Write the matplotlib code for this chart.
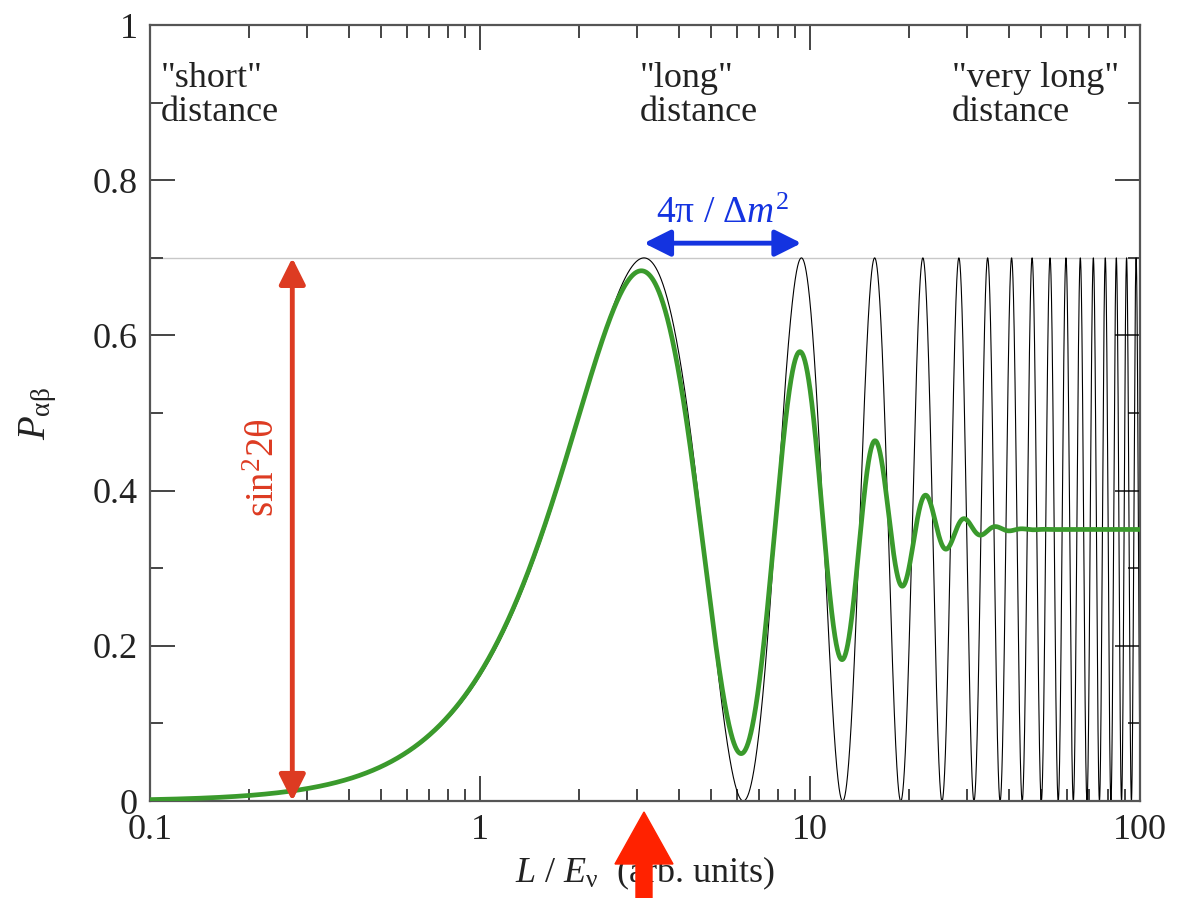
import numpy as np
import matplotlib
matplotlib.use('Agg')
import matplotlib.pyplot as plt
from matplotlib.patches import FancyArrow

plt.rcParams['font.family'] = ['Liberation Serif', 'DejaVu Serif']
plt.rcParams['mathtext.fontset'] = 'custom'
plt.rcParams['mathtext.rm'] = 'Liberation Serif'
plt.rcParams['mathtext.it'] = 'Liberation Serif:italic'
plt.rcParams['mathtext.bf'] = 'Liberation Serif:bold'

# parameters
sin2_2theta = 0.7          # amplitude of the oscillation
dm2 = 2.0                  # period in L/E is 4*pi/dm2 (peaks at pi, 3pi, ...)
e_spread = 0.097           # relative energy spread for the averaged curve
x_min, x_max = 0.1, 100.0

x_ticks = [0.1, 1, 10, 100]
x_tick_labels = ['0.1', '1', '10', '100']
y_ticks = [0, 0.2, 0.4, 0.6, 0.8, 1.0]
y_tick_labels = ['0', '0.2', '0.4', '0.6', '0.8', '1']

region_labels = ['"short"\ndistance', '"long"\ndistance', '"very long"\ndistance']
region_x = [0.108, 3.05, 26.9]

sin2_arrow_x = 0.27


def prob(le):
    return sin2_2theta * np.sin(dm2 * le / 4.0) ** 2


le = np.logspace(np.log10(x_min), np.log10(x_max), 30000)
p_exact = prob(le)

# average over a gaussian energy spread
e = np.linspace(1 - 5 * e_spread, 1 + 5 * e_spread, 601)
w = np.exp(-0.5 * ((e - 1) / e_spread) ** 2)
w = w / w.sum()
p_avg = np.zeros_like(le)
for ei, wi in zip(e, w):
    p_avg += wi * prob(le / ei)

fig = plt.figure(figsize=(11.92, 8.98), dpi=100)
ax = fig.add_axes([0.1258, 0.108, 0.8305, 0.864])

ax.axhline(sin2_2theta, color='#c8c8c8', lw=1.0, zorder=1)
ax.plot(le, p_exact, color='black', lw=0.8, zorder=2)
ax.plot(le, p_avg, color='#3a9a2c', lw=3.4, zorder=3)

ax.set_xscale('log')
ax.set_xlim(x_min, x_max)
ax.set_ylim(0, 1)
ax.set_xticks(x_ticks, labels=x_tick_labels)
ax.set_yticks(y_ticks, labels=y_tick_labels)
ax.set_yticks(np.arange(0.1, 1.0, 0.2), minor=True)

for s in ax.spines.values():
    s.set_color('#555555')
    s.set_linewidth(1.6)
ax.tick_params(which='both', direction='in', top=True, right=True,
               color='#444444', width=1.4, labelsize=26, labelcolor='#222222')
ax.tick_params(which='major', length=18, pad=9)
ax.tick_params(which='minor', length=9)

ax.set_xlabel(r'$L$ / $E_{\mathrm{\nu}}$  (arb. units)', fontsize=26, labelpad=6,
              color='#222222')
ax.set_ylabel(r'$P_{\mathrm{\alpha\beta}}$', fontsize=28, labelpad=24, color='#222222')

for txt, xx in zip(region_labels, region_x):
    ax.text(xx, 0.953, txt, fontsize=26, va='top', ha='left',
            linespacing=1.05, color='#222222')

# sin^2 2theta arrow
ax.annotate('', xy=(sin2_arrow_x, sin2_2theta), xytext=(sin2_arrow_x, 0.0),
            arrowprops=dict(arrowstyle='<|-|>,head_length=0.8,head_width=0.4',
                            color='#dd3b22', lw=3.5, shrinkA=0, shrinkB=0,
                            mutation_scale=20), zorder=4)
ax.text(0.222, 0.43, 'sin$^2$2θ', rotation=90, fontsize=28,
        color='#dd3b22', ha='center', va='center')

# period arrow
ax.annotate('', xy=(3 * np.pi, 0.719), xytext=(np.pi, 0.719),
            arrowprops=dict(arrowstyle='<|-|>,head_length=0.8,head_width=0.4',
                            color='#1433e0', lw=3.5, shrinkA=0, shrinkB=0,
                            mutation_scale=20), zorder=4)
ax.text(np.sqrt(3) * np.pi, 0.757, '4π / Δ$m^2$', fontsize=27, color='#1433e0',
        ha='center', va='center')

# big red arrow under the axis pointing at the first maximum
x_pix = ax.transData.transform((np.pi, 0))[0] / fig.dpi
arrow = FancyArrow(x_pix, 0.0, 0.0, 0.86, width=0.16, head_width=0.58,
                   head_length=0.52, length_includes_head=True,
                   color='#ff2200', transform=fig.dpi_scale_trans, zorder=10)
fig.add_artist(arrow)

fig.savefig('out.png', dpi=100)
